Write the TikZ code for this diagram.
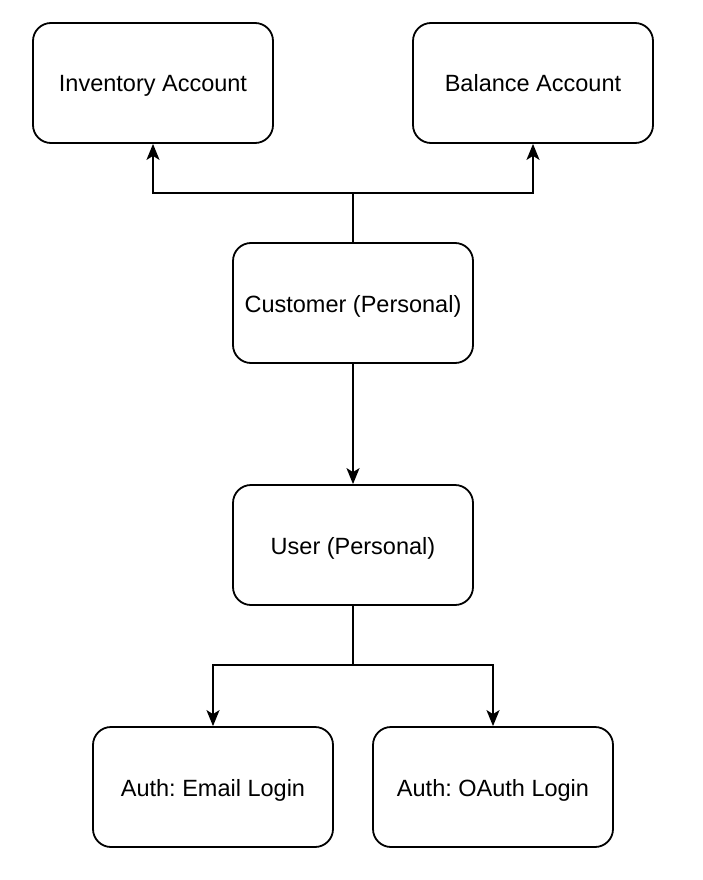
\documentclass[tikz,border=0pt]{standalone}
\usepackage{fontspec}
\setmainfont{Liberation Sans}
\frenchspacing
\usetikzlibrary{arrows.meta}
\begin{document}
\begin{tikzpicture}[x=1pt,y=-1pt,
  box/.style={draw=black, line width=1.8pt, rounded corners=18pt, minimum width=240pt, minimum height=120pt, inner sep=0pt, text height=18pt, text depth=0pt, font=\fontsize{23.5}{28}\selectfont, fill=white},
  conn/.style={draw=black, line width=1.8pt, -{Stealth[length=16pt,width=13pt,inset=4pt]}}]
\useasboundingbox (0,0) rectangle (702,880);
\fill[white] (0,0) rectangle (702,880);
\node[box] (inv) at (153,83) {Inventory Account};
\node[box] (bal) at (533,83) {Balance Account};
\node[box] (cust) at (353,303) {Customer (Personal)};
\node[box] (user) at (353,545) {User (Personal)};
\node[box] (email) at (213,787) {Auth: Email Login};
\node[box] (oauth) at (493,787) {Auth: OAuth Login};
\coordinate (ct) at (353,193);
\coordinate (ub) at (353,665);
\draw[conn] (cust.north) -- (ct) -| (inv.south);
\draw[conn] (cust.north) -- (ct) -| (bal.south);
\draw[conn] (cust.south) -- (user.north);
\draw[conn] (user.south) -- (ub) -| (email.north);
\draw[conn] (user.south) -- (ub) -| (oauth.north);
\end{tikzpicture}
\end{document}
